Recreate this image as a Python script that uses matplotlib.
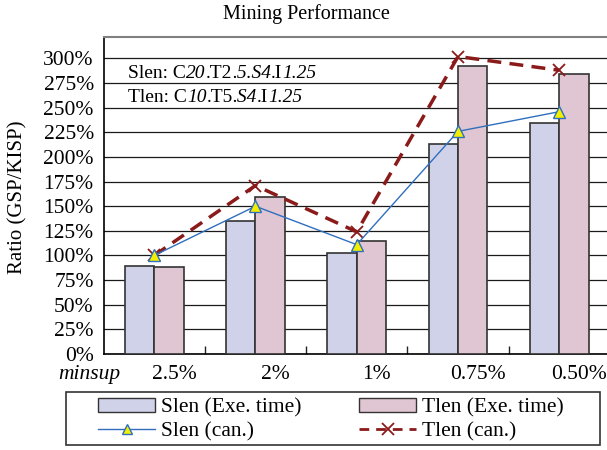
import matplotlib
matplotlib.use("Agg")
import matplotlib.pyplot as plt
from matplotlib.patches import Rectangle, Patch
from matplotlib.lines import Line2D
from matplotlib.transforms import ScaledTranslation, offset_copy
import numpy as np

plt.rcParams['font.family'] = ['Liberation Serif', 'DejaVu Serif']

# Data
categories = ["2.5%", "2%", "1%", "0.75%", "0.50%"]
slen_exe = [89, 135, 103, 213, 234]
tlen_exe = [88, 159, 115, 292, 284]
slen_can = [100, 150, 111, 226, 246]
tlen_can = [100, 171, 124, 302, 288]
y_ticks = list(range(0, 301, 25))

W, H, DPI = 607, 450, 100
fig = plt.figure(figsize=(W / DPI, H / DPI), dpi=DPI)
ax = fig.add_axes([103.5 / W, 1 - 354 / H, (610 - 103.5) / W, (354 - 37.3) / H])

x = np.arange(len(categories))
bw = 0.29
slen_color = '#d0d2ea'
tlen_color = '#e0c5d2'
edge = '#333333'

ax.bar(x - bw / 2, slen_exe, bw, color=slen_color, edgecolor=edge, linewidth=1.2, zorder=3)
ax.bar(x + bw / 2, tlen_exe, bw, color=tlen_color, edgecolor=edge, linewidth=1.2, zorder=3)

blue = '#2f6fbf'
red = '#8b1a1a'
ax.plot(x, slen_can, color=blue, lw=1.0, marker='^', ms=8, mfc='#f2ee00',
        mec=blue, mew=1.0, zorder=5)
ax.plot(x, tlen_can, color=red, lw=2.5, dashes=(4, 2.4), marker='x', ms=8,
        mew=1.3, zorder=4)

ax.set_xlim(-0.5, len(categories) - 0.5)
ax.set_ylim(0, 321.5)
ax.set_yticks(y_ticks)
ax.set_yticklabels([f"{v}%" for v in y_ticks], fontsize=15.5)
ax.tick_params(axis='y', length=0, pad=7)
ax.yaxis.grid(True, color='#1a1a1a', lw=0.9, zorder=0)
ax.set_axisbelow(True)

ax.set_xticks(x)
ax.set_xticklabels(categories, fontsize=15.5)
ax.tick_params(axis='x', which='major', length=0, pad=8)
offset = ScaledTranslation(20 / DPI, 0, fig.dpi_scale_trans)
for lab in ax.get_xticklabels():
    lab.set_transform(lab.get_transform() + offset)
ax.set_xticks(np.arange(0.5, len(categories) - 0.5, 1), minor=True)
ax.tick_params(axis='x', which='minor', direction='in', length=6, width=1, color='#222')

for s in ['left', 'bottom']:
    ax.spines[s].set_color('black')
    ax.spines[s].set_linewidth(1.2)
ax.spines['top'].set_color('#808080')
ax.spines['top'].set_linewidth(1.5)
ax.spines['right'].set_visible(False)


def mixed_text(x0, y0, parts, size):
    """Draw consecutive text runs, each with its own style, on one baseline."""
    renderer = fig.canvas.get_renderer()
    dx = 0.0
    for txt, style in parts:
        t = fig.text(x0, y0, txt, fontsize=size, style=style, ha='left',
                     va='baseline', zorder=6,
                     transform=offset_copy(fig.transFigure, fig=fig, x=dx, y=0,
                                           units='dots'))
        bb = t.get_window_extent(renderer)
        dx += bb.width


mixed_text(128 / W, 1 - 78 / H,
           [("Slen: C", 'normal'), ("20", 'italic'), (".T2", 'normal'),
            (".5.S4", 'italic'), (".I", 'normal'), ("1.25", 'italic')], 14)
mixed_text(128 / W, 1 - 102 / H,
           [("Tlen: C", 'normal'), ("10", 'italic'), (".T5", 'normal'),
            (".S4", 'italic'), (".I", 'normal'), ("1.25", 'italic')], 14)

fig.text(306 / W, 1 - 14 / H, "Mining Performance", fontsize=14.5, ha='center', va='center')
fig.text(18 / W, 1 - 197 / H, "Ratio (GSP/KISP)", fontsize=15, rotation=90,
         ha='center', va='center')
fig.text(89 / W, 1 - 375 / H, "minsup", fontsize=15.5, style='italic',
         ha='center', va='center')

# Legend
handles = [
    Patch(facecolor=slen_color, edgecolor=edge, linewidth=1.0),
    Line2D([], [], color=blue, lw=1.0, marker='^', ms=7, mfc='#f2ee00', mec=blue),
    Patch(facecolor=tlen_color, edgecolor=edge, linewidth=1.0),
    Line2D([], [], color=red, lw=2.0, dashes=(3.5, 2.5), marker='x', ms=8, mew=1.3),
]
labels = ["Slen (Exe. time)", "Slen (can.)", "Tlen (Exe. time)", "Tlen (can.)"]
fig.legend(handles, labels, ncol=2, loc='center',
           bbox_to_anchor=(331 / W, 1 - 420 / H), frameon=False,
           fontsize=15.5, handlelength=2.65, handleheight=0.6, handletextpad=0.25,
           columnspacing=2.7, labelspacing=0.2, borderpad=0.2)
fig.patches.append(Rectangle((66 / W, 1 - 445 / H), 534 / W, 53 / H,
                             transform=fig.transFigure, fill=False,
                             edgecolor='#333333', lw=1.2))

fig.savefig("out.png", dpi=DPI)
